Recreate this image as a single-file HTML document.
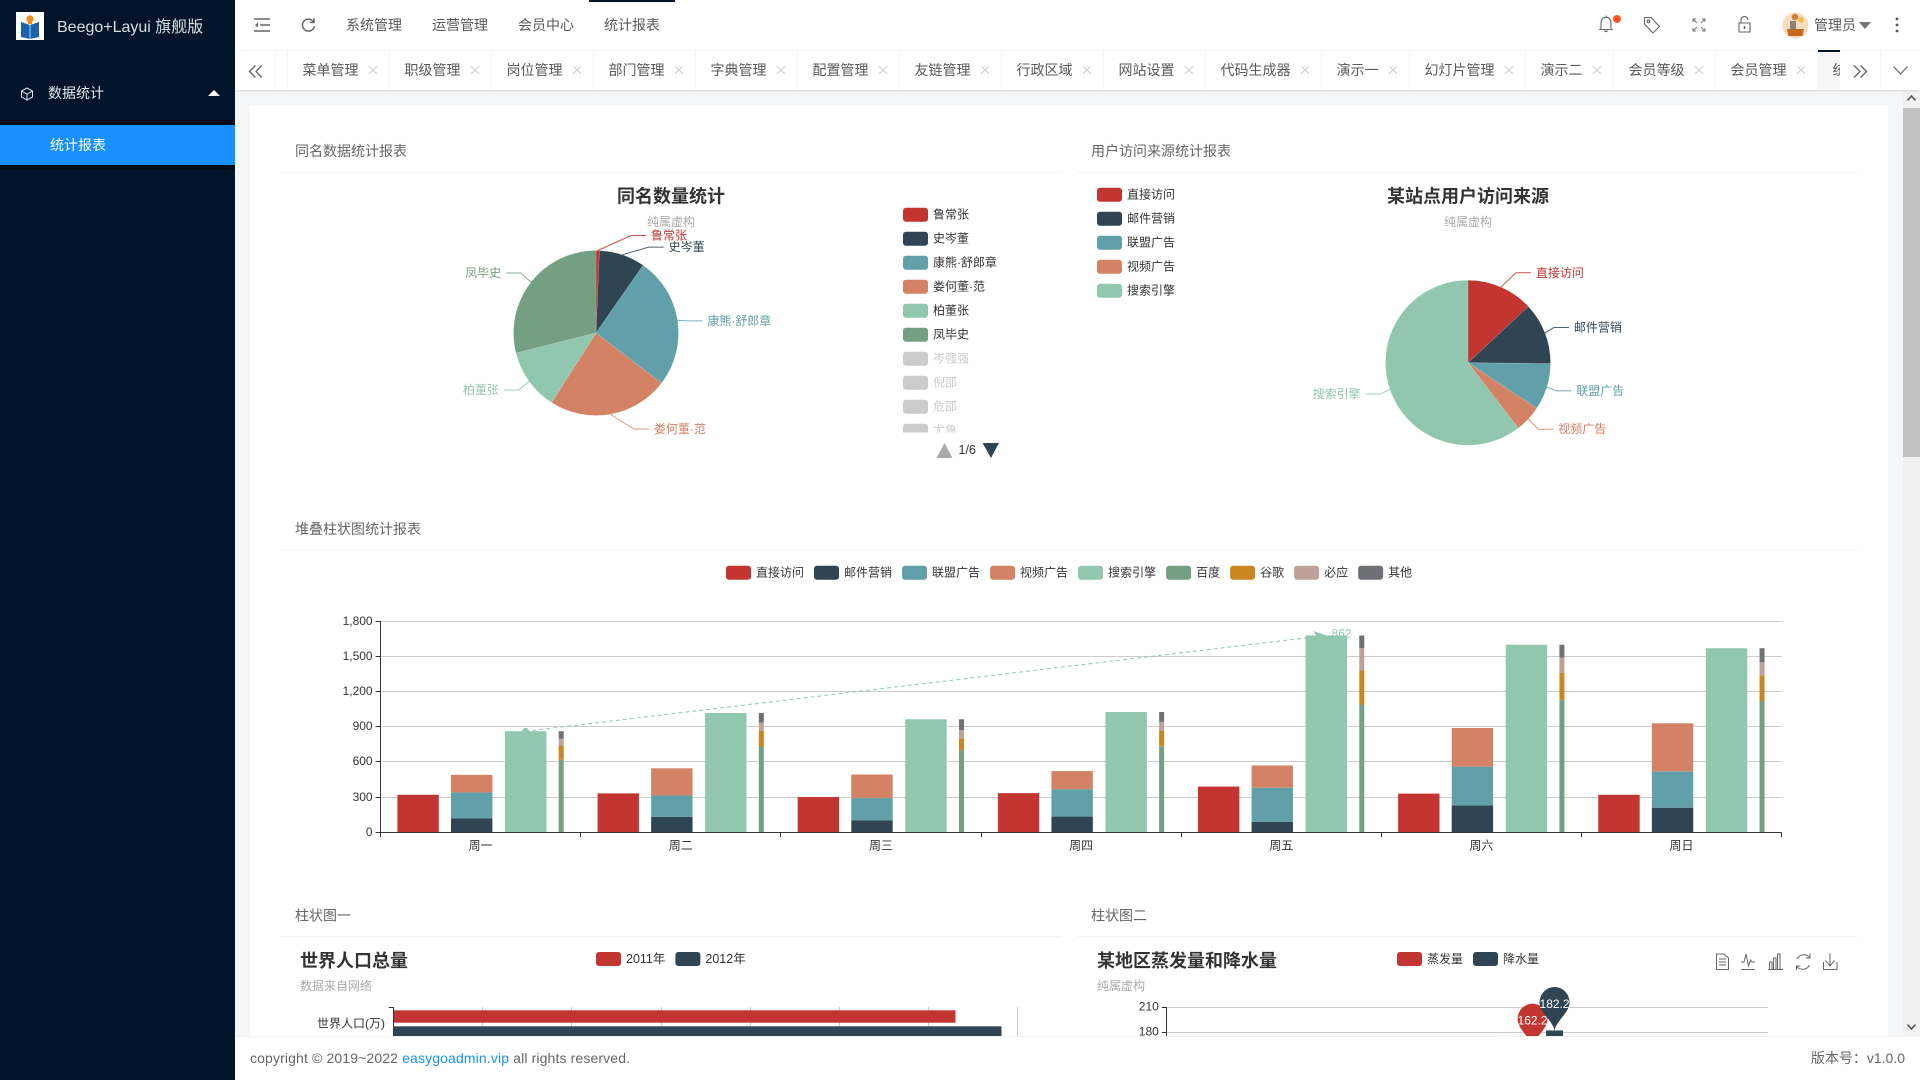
<!DOCTYPE html>
<html lang="zh-CN">
<head>
<meta charset="utf-8">
<title>统计报表</title>
<style>
*{box-sizing:border-box}
html,body{margin:0;padding:0;width:1920px;height:1080px;overflow:hidden;background:#f4f6f8;
font-family:"Liberation Sans","Noto Sans CJK SC",sans-serif;color:#666;font-size:14px}
.abs{position:absolute}
#sidebar{left:0;top:0;width:235px;height:1080px;background:#00152a;z-index:5}
#logo-box{left:16px;top:12px;width:28px;height:28px;background:#fff}
#brand{left:57px;top:15.5px;font-size:16px;line-height:24px;color:rgba(255,255,255,.85);white-space:nowrap}
#menu-group{left:48px;top:83px;line-height:20px;color:rgba(255,255,255,.9)}
#submenu{left:0;top:120px;width:235px;height:50px;background:#000c17}
#menu-active{left:0;top:125px;width:235px;height:40px;background:#1890ff;color:#fff;line-height:40px;padding-left:50px}
#topbar{left:235px;top:0;width:1685px;height:50px;background:#fff;z-index:4}
.nav{position:absolute;top:15px;line-height:20px;color:#595959;white-space:nowrap}
#nav-active-bar{position:absolute;left:354px;top:0;width:86px;height:2px;background:#001529}
#tabrow{left:235px;top:50px;width:1685px;height:40px;background:#fff;border-top:1px solid #f6f6f6;box-shadow:0 1px 2px rgba(0,0,0,.12);z-index:3}
#tabs{position:absolute;left:52px;top:-1px;width:1553px;height:40px;overflow:hidden;display:flex;border-left:1px solid #f6f6f6}
.tab{flex:none;height:40px;line-height:40px;padding-left:14.5px;padding-right:12px;border-right:1px solid #f6f6f6;color:#595959;white-space:nowrap;display:flex;align-items:center}
.tab svg{margin-left:10.5px;flex:none}
.tab.on{background:#f6f6f6;position:relative}
.tab.on:before{content:"";position:absolute;left:0;top:0;width:100%;height:2px;background:#001529}
.sep{position:absolute;top:0;width:1px;height:39px;background:#f6f6f6}
#content-card{left:250px;top:105px;width:1638px;height:940px;background:#fff}
#charts{left:0;top:0;width:1920px;height:1080px;z-index:1}
#scroll-track{left:1903px;top:90px;width:17px;height:946px;background:#f1f1f1;z-index:2}
#scroll-thumb{left:1903px;top:108px;width:17px;height:349px;background:#c1c1c1;z-index:2}
#footer{left:235px;top:1036px;width:1685px;height:44px;background:#fff;border-top:1px solid #f2f2f2;z-index:4;line-height:43px;color:#666}
#copy{position:absolute;left:15px;top:0;white-space:nowrap;letter-spacing:.13px}
#copy a{color:#1890ff;text-decoration:none}
#version{position:absolute;right:15px;top:0;white-space:nowrap}
svg text{font-family:"Liberation Sans","Noto Sans CJK SC",sans-serif}
</style>
</head>
<body>

<div id="sidebar" class="abs">
  <div id="logo-box" class="abs">
    <svg width="28" height="28" viewBox="0 0 28 28">
      <path d="M5 10 L14 13 L23 10 L23 25 L14 27 L5 25Z" fill="#1b64ac"/>
      <path d="M14 13V27" stroke="#8fc0ea" stroke-width="1.2"/>
      <path d="M14 3 L18 8 L16 8 L16 12 L12 12 L12 8 L10 8Z" fill="#f08a1d"/>
      <circle cx="14" cy="7" r="3.6" fill="#f08a1d"/>
    </svg>
  </div>
  <div id="brand" class="abs">Beego+Layui 旗舰版</div>
  <svg class="abs" style="left:20px;top:87px" width="14" height="14" viewBox="0 0 14 14" fill="none" stroke="#dfe3e8" stroke-width="1">
    <path d="M7 1 L12.5 4 V10 L7 13 L1.5 10 V4Z M1.5 4 L7 7.2 L12.5 4 M7 7.2V13"/>
  </svg>
  <div id="menu-group" class="abs">数据统计</div>
  <svg class="abs" style="left:208px;top:90px" width="12" height="6"><path d="M0 6 L6 0 L12 6Z" fill="#fff"/></svg>
  <div id="submenu" class="abs"></div>
  <div id="menu-active" class="abs">统计报表</div>
</div>

<div id="topbar" class="abs">
  <div id="nav-active-bar"></div>
  <svg class="abs" style="left:19px;top:18px" width="16" height="14" viewBox="0 0 16 14" stroke="#666" stroke-width="1.6" fill="none">
    <path d="M0 1H16M6 7H16M0 13H16"/><path d="M4 4.5 L1 7 L4 9.5Z" fill="#666" stroke="none"/>
  </svg>
  <svg class="abs" style="left:66px;top:17px" width="15" height="16" viewBox="0 0 15 16" fill="none" stroke="#666" stroke-width="1.5">
    <path d="M12.6 5 A6 6 0 1 0 13.4 9"/><path d="M13 1.2 V5.4 H8.9"/>
  </svg>
  <div class="nav" style="left:111px">系统管理</div>
  <div class="nav" style="left:197px">运营管理</div>
  <div class="nav" style="left:283px">会员中心</div>
  <div class="nav" style="left:369px">统计报表</div>

  <svg class="abs" style="left:1363px;top:14px" width="24" height="21" viewBox="0 0 24 21" fill="none" stroke="#666" stroke-width="1.1">
    <path d="M1 15.5 H15 M3 15 V9 A5 5.8 0 0 1 13 9 V15 M6.5 16.5 A1.6 1.6 0 0 0 9.5 16.5 M8 3V1.5"/>
    <circle cx="19" cy="5" r="4" fill="#ff5722" stroke="none"/>
  </svg>
  <svg class="abs" style="left:1408px;top:16px" width="18" height="18" viewBox="0 0 18 18" fill="none" stroke="#666" stroke-width="1.1">
    <path d="M1.5 1.5 H8 L16.5 10.5 L10 17 L1.5 8Z"/><circle cx="5.4" cy="5.3" r="1.4"/>
  </svg>
  <svg class="abs" style="left:1457px;top:18px" width="14" height="14" viewBox="0 0 14 14" fill="none" stroke="#777" stroke-width="1">
    <path d="M1 4V1H4M13 4V1H10M1 10V13H4M13 10V13H10M1 1L5 5M13 1L9 5M1 13L5 9M13 13L9 9"/>
  </svg>
  <svg class="abs" style="left:1503px;top:16px" width="13" height="17" viewBox="0 0 13 17" fill="none" stroke="#666" stroke-width="1.1">
    <path d="M1 7 H12 V16 H1Z M3 7 V4 A3.4 3.4 0 0 1 10 4"/><path d="M6.5 10V13" stroke-width="1.6"/>
  </svg>
  <svg class="abs" style="left:1547px;top:12px" width="27" height="27" viewBox="0 0 27 27">
    <circle cx="13.5" cy="13.5" r="13" fill="#f7dcc0"/>
    <circle cx="13" cy="5" r="3.2" fill="#c97f35"/>
    <circle cx="19" cy="8" r="3" fill="#efbe52"/>
    <rect x="8" y="9" width="6" height="8" fill="#8d7f78"/>
    <path d="M5 17 H22 L20.5 24 H6.5Z" fill="#c8681e"/>
  </svg>
  <div class="nav" style="left:1579px">管理员</div>
  <svg class="abs" style="left:1624px;top:22px" width="12" height="7"><path d="M0 0 H12 L6 7Z" fill="#777"/></svg>
  <svg class="abs" style="left:1660px;top:17px" width="4" height="16"><circle cx="2" cy="2" r="1.4" fill="#555"/><circle cx="2" cy="8" r="1.4" fill="#555"/><circle cx="2" cy="14" r="1.4" fill="#555"/></svg>
</div>

<div id="tabrow" class="abs">
  <svg class="abs" style="left:13px;top:14px" width="16" height="13" viewBox="0 0 16 13" fill="none" stroke="#666" stroke-width="1.4"><path d="M7.5 0.5 L1.5 6.5 L7.5 12.5 M14 0.5 L8 6.5 L14 12.5"/></svg>
  <div class="sep" style="left:40px"></div>
  <div id="tabs">
    <div class="tab">菜单管理<svg width="8" height="8"><path d="M0 0L8 8M8 0L0 8" stroke="#ccc"/></svg></div>
    <div class="tab">职级管理<svg width="8" height="8"><path d="M0 0L8 8M8 0L0 8" stroke="#ccc"/></svg></div>
    <div class="tab">岗位管理<svg width="8" height="8"><path d="M0 0L8 8M8 0L0 8" stroke="#ccc"/></svg></div>
    <div class="tab">部门管理<svg width="8" height="8"><path d="M0 0L8 8M8 0L0 8" stroke="#ccc"/></svg></div>
    <div class="tab">字典管理<svg width="8" height="8"><path d="M0 0L8 8M8 0L0 8" stroke="#ccc"/></svg></div>
    <div class="tab">配置管理<svg width="8" height="8"><path d="M0 0L8 8M8 0L0 8" stroke="#ccc"/></svg></div>
    <div class="tab">友链管理<svg width="8" height="8"><path d="M0 0L8 8M8 0L0 8" stroke="#ccc"/></svg></div>
    <div class="tab">行政区域<svg width="8" height="8"><path d="M0 0L8 8M8 0L0 8" stroke="#ccc"/></svg></div>
    <div class="tab">网站设置<svg width="8" height="8"><path d="M0 0L8 8M8 0L0 8" stroke="#ccc"/></svg></div>
    <div class="tab">代码生成器<svg width="8" height="8"><path d="M0 0L8 8M8 0L0 8" stroke="#ccc"/></svg></div>
    <div class="tab">演示一<svg width="8" height="8"><path d="M0 0L8 8M8 0L0 8" stroke="#ccc"/></svg></div>
    <div class="tab">幻灯片管理<svg width="8" height="8"><path d="M0 0L8 8M8 0L0 8" stroke="#ccc"/></svg></div>
    <div class="tab">演示二<svg width="8" height="8"><path d="M0 0L8 8M8 0L0 8" stroke="#ccc"/></svg></div>
    <div class="tab">会员等级<svg width="8" height="8"><path d="M0 0L8 8M8 0L0 8" stroke="#ccc"/></svg></div>
    <div class="tab">会员管理<svg width="8" height="8"><path d="M0 0L8 8M8 0L0 8" stroke="#ccc"/></svg></div>
    <div class="tab on">统计报表</div>
  </div>
  <svg class="abs" style="left:1617px;top:14px" width="16" height="13" viewBox="0 0 16 13" fill="none" stroke="#666" stroke-width="1.4"><path d="M2 0.5 L8 6.5 L2 12.5 M8.5 0.5 L14.5 6.5 L8.5 12.5"/></svg>
  <div class="sep" style="left:1645px"></div>
  <svg class="abs" style="left:1658px;top:15px" width="15" height="9" viewBox="0 0 15 9" fill="none" stroke="#666" stroke-width="1.2"><path d="M0.5 0.5 L7.5 8 L14.5 0.5"/></svg>
</div>

<div id="content-card" class="abs"></div>

<svg id="charts" class="abs" width="1920" height="1080" viewBox="0 0 1920 1080"></svg>

<div id="scroll-track" class="abs">
  <svg class="abs" style="left:4px;top:5px" width="9" height="6"><path d="M0.5 5.5L4.5 1L8.5 5.5" fill="none" stroke="#505050" stroke-width="1.5"/></svg>
  <svg class="abs" style="left:4px;top:934px" width="9" height="6"><path d="M0.5 0.5L4.5 5L8.5 0.5" fill="none" stroke="#505050" stroke-width="1.5"/></svg>
</div>
<div id="scroll-thumb" class="abs"></div>

<div id="footer" class="abs">
  <div id="copy">copyright © 2019~2022 <a>easygoadmin.vip</a> all rights reserved.</div>
  <div id="version">版本号：v1.0.0</div>
</div>

<script>
/* ---------- chart data ---------- */
const palette = ['#c23531','#2f4554','#61a0a8','#d48265','#91c7ae','#749f83','#ca8622','#bda29a','#6e7074'];

const sameNameLegend = ['鲁常张','史岑董','康熊·舒郎章','娄何董·范','柏董张','凤毕史','岑强强','倪邵','危邵','尤鲁'];
const sameNameValues = [24,324,926,852,433,1041];

const visitNames = ['直接访问','邮件营销','联盟广告','视频广告','搜索引擎'];
const visitValues = [335,310,234,135,1548];

const weekDays = ['周一','周二','周三','周四','周五','周六','周日'];
const stackTicks = [0,300,600,900,1200,1500,1800];
const stackLegend = ['直接访问','邮件营销','联盟广告','视频广告','搜索引擎','百度','谷歌','必应','其他'];
const directValues = [320,332,301,334,390,330,320];
const emailValues = [120,132,101,134,90,230,210];
const allianceValues = [220,182,191,234,290,330,310];
const videoValues = [150,232,201,154,190,330,410];
const searchValues = [862,1018,964,1026,1679,1600,1570];
const baiduValues = [620,732,701,734,1090,1130,1120];
const googleValues = [120,132,101,134,290,230,220];
const bingValues = [60,72,71,74,190,130,110];
const otherValues = [62,82,91,84,109,110,120];

const populationCategories = ['世界人口(万)','中国','印度','美国','印尼','巴西'];
const population2011 = [630230,131744,104970,29034,23489,18203];
const population2012 = [681807,134141,121594,31000,23438,19325];
const populationTicks = [0,100000,200000,300000,400000,500000,600000,700000];

const monthNames = ['1月','2月','3月','4月','5月','6月','7月','8月','9月','10月','11月','12月'];
const evaporationValues = [2.0,4.9,7.0,23.2,25.6,76.7,135.6,162.2,32.6,20.0,6.4,3.3];
const rainfallValues = [2.6,5.9,9.0,26.4,28.7,70.7,175.6,182.2,48.7,18.8,6.0,2.3];
const rainTicks = [0,30,60,90,120,150,180,210];

/* ---------- helpers ---------- */
const NS = 'http://www.w3.org/2000/svg';
const root = document.getElementById('charts');
const visibleBottom = 1036;
function mk(tag, attrs, parent, txt) {
  const n = document.createElementNS(NS, tag);
  for (const k in attrs) n.setAttribute(k, attrs[k]);
  if (txt !== undefined) n.textContent = txt;
  parent.appendChild(n);
  return n;
}
function label(parent, x, y, txt, size, fill, anchor, weight) {
  return mk('text', {x: x, y: y, 'font-size': size, fill: fill, 'text-anchor': anchor || 'start',
    'dominant-baseline': 'central', 'font-weight': weight || 'normal'}, parent, txt);
}
function group(parent) { return mk('g', {}, parent); }

function swatch(parent, x, y, color) {
  return mk('rect', {x: x, y: y - 7, width: 25, height: 14, rx: 3, fill: color}, parent);
}

/* card headers */
function cardHeader(txt, textX, textY, x1, x2, lineY) {
  const g = group(root);
  
  
  const t = label(g, textX, textY, txt, 14, '#666');
  
  
  const l = mk('line', {x1: x1, x2: x2, y1: lineY, y2: lineY, stroke: '#f6f6f6', 'stroke-width': 1}, g);
  
  
}
cardHeader('同名数据统计报表', 295, 151, 280, 1062, 172.5);
cardHeader('用户访问来源统计报表', 1091, 151, 1077, 1858, 172.5);
cardHeader('堆叠柱状图统计报表', 295, 529, 280, 1858, 550.5);
cardHeader('柱状图一', 295, 915.5, 280, 1061, 936.5);
cardHeader('柱状图二', 1091, 915.5, 1077, 1858, 936.5);

/* legend drawing */
function legendColumn(parent, names, x, firstY, activeCount) {
  names.forEach(function (name, i) {
    const on = i < activeCount;
    const item = group(parent);
    
    
    swatch(item, x, firstY + i * 24, on ? palette[i % palette.length] : '#ccc');
    label(item, x + 30, firstY + i * 24, name, 12, on ? '#333' : '#ccc');
  });
}
function legendRow(parent, names, startX, y, colors, size) {
  let x = startX;
  names.forEach(function (name, i) {
    const item = group(parent);
    
    
    swatch(item, x, y, colors[i % colors.length]);
    const t = label(item, x + 30, y, name, size || 12, '#333');
    x += 25 + 5 + t.getComputedTextLength() + 10;
  });
}

/* pie drawing */
function polar(cx, cy, r, deg) {
  const a = deg * Math.PI / 180;
  return [cx + r * Math.sin(a), cy - r * Math.cos(a)];
}
function drawPie(parent, names, values, cx, cy, r, nudges) {
  const total = values.reduce(function (a, b) { return a + b; }, 0);
  let start = 0;
  values.forEach(function (v, i) {
    const sweep = v / total * 360;
    const end = start + sweep;
    const mid = start + sweep / 2;
    const color = palette[i % palette.length];
    const p0 = polar(cx, cy, r, start);
    const p1 = polar(cx, cy, r, end);
    const slice = mk('path', {
      d: 'M' + cx + ' ' + cy + 'L' + p0[0] + ' ' + p0[1] + 'A' + r + ' ' + r + ' 0 ' + (sweep > 180 ? 1 : 0) + ' 1 ' + p1[0] + ' ' + p1[1] + 'Z',
      fill: color, stroke: 'rgba(255,255,255,.25)', 'stroke-width': 0.5
    }, parent);
    
    

    const nudge = nudges[names[i]] || [0, 0];
    const out = polar(cx, cy, r, mid);
    const elbow = polar(cx, cy, r + 15, mid);
    elbow[0] += nudge[0];
    elbow[1] += nudge[1];
    const dir = (mid < 180) ? 1 : -1;
    const endX = elbow[0] + dir * 15;
    const lead = mk('polyline', {
      points: out.join(',') + ' ' + elbow.join(',') + ' ' + endX + ',' + elbow[1],
      fill: 'none', stroke: color, 'stroke-width': 1, 'stroke-opacity': 0.85
    }, parent);
    
    
    const t = label(parent, endX + dir * 5, elbow[1], names[i], 12, color, dir > 0 ? 'start' : 'end');
    
    
    start = end;
  });
}

/* ---------- chart 1: same name pie ---------- */
const pieOne = group(root);


const pieOneTitle = label(pieOne, 671, 196.5, '同名数量统计', 18, '#333', 'middle', 'bold');


const pieOneSub = label(pieOne, 671, 222, '纯属虚构', 12, '#aaa', 'middle');


drawPie(pieOne, sameNameLegend.slice(0, sameNameValues.length), sameNameValues, 596, 333, 82.5, {
  '鲁常张': [33, 0], '史岑董': [21.5, 6.5], '康熊·舒郎章': [-5, 3], '娄何董·范': [21, 0], '柏董张': [2, 0], '凤毕史': [2, 0]
});
const defs = mk('defs', {}, root);
const clip = mk('clipPath', {id: 'legend-clip'}, defs);
mk('rect', {x: 895, y: 200, width: 170, height: 232.5}, clip);
const pieOneLegend = mk('g', {'clip-path': 'url(#legend-clip)'}, pieOne);


legendColumn(pieOneLegend, sameNameLegend, 903, 214.7, sameNameValues.length);
const pagerUp = mk('path', {d: 'M944.5 443 L952.5 458 L936.5 458Z', fill: '#aaa'}, pieOne);


const pagerText = label(pieOne, 958.5, 450, '1/6', 12.5, '#333');


const pagerDown = mk('path', {d: 'M982.5 443 L999 443 L991 458Z', fill: '#2f4554'}, pieOne);



/* ---------- chart 2: visit source pie ---------- */
const pieTwo = group(root);


const pieTwoTitle = label(pieTwo, 1468, 196.5, '某站点用户访问来源', 18, '#333', 'middle', 'bold');


const pieTwoSub = label(pieTwo, 1468, 222, '纯属虚构', 12, '#aaa', 'middle');


drawPie(pieTwo, visitNames, visitValues, 1468, 362.7, 82.5, {
  '直接访问': [9, -0.5], '邮件营销': [-5, 0], '联盟广告': [-5, -0.5], '视频广告': [-1, 0], '搜索引擎': [5, 0]
});
const pieTwoLegend = group(pieTwo);


legendColumn(pieTwoLegend, visitNames, 1097, 194.7, visitNames.length);

/* ---------- chart 3: stacked bars ---------- */
const stackAxis = {left: 380.6, right: 1781.6, bottom: 832.3, top: 621.3};
function stackX(i) { return stackAxis.left + i * (stackAxis.right - stackAxis.left) / weekDays.length; }
function stackY(v) {
  const max = stackTicks[stackTicks.length - 1];
  return stackAxis.bottom - v / max * (stackAxis.bottom - stackAxis.top);
}
const stackChart = group(root);


const stackLegendGroup = group(stackChart);


legendRow(stackLegendGroup, stackLegend, 726, 572.7, palette);

stackTicks.forEach(function (tick) {
  const y = Math.floor(stackY(tick)) + 0.5;
  if (tick > 0) {
    const grid = mk('line', {x1: stackAxis.left, x2: stackAxis.right, y1: y, y2: y, stroke: '#ccc', 'stroke-width': 1}, stackChart);
    
    
  }
  const mark = mk('line', {x1: stackAxis.left - 5, x2: stackAxis.left, y1: y, y2: y, stroke: '#333'}, stackChart);
  
  
  const t = label(stackChart, stackAxis.left - 8, y - 0.5, tick.toLocaleString('en-US'), 12, '#333', 'end');
  
  
});

function stackedBar(dayIndex, offset, width, seriesList, colorStart) {
  let base = 0;
  seriesList.forEach(function (series, s) {
    const yTop = stackY(base + series[dayIndex]);
    const yBottom = stackY(base);
    const bar = mk('rect', {x: stackX(dayIndex) + offset, y: yTop, width: width, height: yBottom - yTop,
      fill: palette[colorStart + s]}, stackChart);
    
    
    base += series[dayIndex];
  });
}
weekDays.forEach(function (day, i) {
  stackedBar(i, 16.8, 41.4, [directValues], 0);
  stackedBar(i, 70.4, 41.4, [emailValues, allianceValues, videoValues], 1);
  stackedBar(i, 124.4, 41.4, [searchValues], 4);
  stackedBar(i, 178.1, 5, [baiduValues, googleValues, bingValues, otherValues], 5);
  const t = label(stackChart, stackX(i) + (stackAxis.right - stackAxis.left) / weekDays.length / 2, 845.7, day, 12, '#333', 'middle');
  
  
});
weekDays.concat(['']).forEach(function (d, i) {
  const x = Math.floor(stackX(i)) + 0.5;
  const tick = mk('line', {x1: x, x2: x, y1: stackAxis.bottom, y2: stackAxis.bottom + 5, stroke: '#333'}, stackChart);
  
  
});
const stackXAxis = mk('line', {x1: stackAxis.left, x2: stackAxis.right, y1: Math.floor(stackAxis.bottom) + 0.5, y2: Math.floor(stackAxis.bottom) + 0.5, stroke: '#333'}, stackChart);


const stackYAxis = mk('line', {x1: Math.floor(stackAxis.left) + 0.5, x2: Math.floor(stackAxis.left) + 0.5, y1: stackAxis.top, y2: stackAxis.bottom, stroke: '#333'}, stackChart);



/* mark line, min to max of the search series */
const searchMin = Math.min.apply(null, searchValues);
const searchMax = Math.max.apply(null, searchValues);
const markCenter = 144.9;
const markX1 = stackX(searchValues.indexOf(searchMin)) + markCenter;
const markX2 = stackX(searchValues.indexOf(searchMax)) + markCenter;
const markY1 = stackY(searchMin);
const markY2 = stackY(searchMax);
const markLine = mk('line', {x1: markX1, y1: markY1, x2: markX2, y2: markY2, stroke: '#91c7ae', 'stroke-width': 1, 'stroke-dasharray': '4 3'}, stackChart);


const markStart = mk('circle', {cx: markX1, cy: markY1, r: 3.5, fill: '#91c7ae'}, stackChart);


const markArrow = mk('path', {d: 'M' + markX2 + ' ' + markY2 + 'l-13 -4.5 l3 4 l-1 4 Z', fill: '#91c7ae'}, stackChart);


const markLabel = label(stackChart, markX2 + 5.5, markY2 - 2, String(searchMin), 12, '#91c7ae');



/* ---------- chart 4: world population ---------- */
const popAxis = {left: 393.7, right: 1017.7, top: 1007, band: 34.6};
function popX(v) {
  const max = populationTicks[populationTicks.length - 1];
  return popAxis.left + v / max * (popAxis.right - popAxis.left);
}
function popY(i) { return popAxis.top + i * popAxis.band; }
const popChart = group(root);


const popTitle = label(popChart, 300, 961, '世界人口总量', 18, '#333', 'start', 'bold');


const popSub = label(popChart, 300, 986, '数据来自网络', 12, '#aaa');


const popLegend = group(popChart);


legendRow(popLegend, ['2011年', '2012年'], 596, 959, palette, 12.5);
populationTicks.forEach(function (tick) {
  if (tick === 0) return;
  const x = Math.floor(popX(tick)) + 0.5;
  const grid = mk('line', {x1: x, x2: x, y1: popAxis.top, y2: visibleBottom, stroke: '#ccc'}, popChart);
  
  
});
populationCategories.forEach(function (name, i) {
  /* only the rows above the fixed footer are on screen */
  if (popY(i) + 3.3 >= visibleBottom) return;
  const y2011 = popY(i) + 3.3;
  const bar2011 = mk('rect', {x: popAxis.left, y: y2011, width: popX(population2011[i]) - popAxis.left, height: Math.min(12.4, visibleBottom - y2011), fill: palette[0]}, popChart);
  
  
  const y2012 = popY(i) + 19.3;
  const bar2012 = mk('rect', {x: popAxis.left, y: y2012, width: popX(population2012[i]) - popAxis.left, height: Math.min(12.4, visibleBottom - y2012), fill: palette[1]}, popChart);
  
  
  const t = label(popChart, 385, popY(i) + popAxis.band / 2 - 1, name, 12, '#333', 'end');
  
  
  const tick = mk('line', {x1: popAxis.left - 5, x2: popAxis.left, y1: Math.floor(popY(i)) + 0.5, y2: Math.floor(popY(i)) + 0.5, stroke: '#333'}, popChart);
  
  
});
const popAxisLine = mk('line', {x1: Math.floor(popAxis.left) + 0.5, x2: Math.floor(popAxis.left) + 0.5, y1: popAxis.top, y2: visibleBottom, stroke: '#333'}, popChart);



/* ---------- chart 5: evaporation and rainfall ---------- */
const rainAxis = {left: 1166.8, right: 1768, y180: 1032.3, perUnit: 25 / 30};
function rainX(i) { return rainAxis.left + (i + 0.5) * (rainAxis.right - rainAxis.left) / monthNames.length; }
function rainY(v) { return rainAxis.y180 - (v - 180) * rainAxis.perUnit; }
const rainChart = group(root);


const rainTitle = label(rainChart, 1097, 961, '某地区蒸发量和降水量', 18, '#333', 'start', 'bold');


const rainSub = label(rainChart, 1097, 986, '纯属虚构', 12, '#aaa');


const rainLegend = group(rainChart);


legendRow(rainLegend, ['蒸发量', '降水量'], 1397, 959, palette);

rainTicks.forEach(function (tick) {
  const y = Math.floor(rainY(tick)) + 0.5;
  if (y >= visibleBottom) return;
  const grid = mk('line', {x1: rainAxis.left, x2: rainAxis.right, y1: y, y2: y, stroke: '#ccc'}, rainChart);
  
  
  const mark = mk('line', {x1: rainAxis.left - 5, x2: rainAxis.left, y1: y, y2: y, stroke: '#333'}, rainChart);
  
  
  const t = label(rainChart, rainAxis.left - 8, y - 1, String(tick), 12, '#333', 'end');
  
  
});
const rainAxisLine = mk('line', {x1: Math.floor(rainAxis.left) + 0.5, x2: Math.floor(rainAxis.left) + 0.5, y1: rainY(210), y2: visibleBottom, stroke: '#333'}, rainChart);



monthNames.forEach(function (m, i) {
  const evapTop = rainY(evaporationValues[i]);
  if (evapTop < visibleBottom) {
    const evapBar = mk('rect', {x: rainX(i) - 18.5, y: evapTop, width: 17, height: visibleBottom - evapTop, fill: palette[0]}, rainChart);
    
    
  }
  const rainTop = rainY(rainfallValues[i]);
  if (rainTop < visibleBottom) {
    const rainBar = mk('rect', {x: rainX(i) + 3.5, y: rainTop, width: 17, height: visibleBottom - rainTop, fill: palette[1]}, rainChart);
    
    
  }
});
function drawPin(x, tipY, value, color) {
  const headY = tipY - 28;
  const pin = mk('path', {
    d: 'M' + x + ' ' + tipY + 'C' + (x - 2) + ' ' + (tipY - 10) + ' ' + (x - 15) + ' ' + (headY + 10) + ' ' + (x - 15) + ' ' + headY +
       'A15 15.5 0 0 1 ' + (x + 15) + ' ' + headY +
       'C' + (x + 15) + ' ' + (headY + 10) + ' ' + (x + 2) + ' ' + (tipY - 10) + ' ' + x + ' ' + tipY + 'Z',
    fill: color
  }, rainChart);
  
  
  const t = label(rainChart, x, headY + 1.5, String(value), 12, '#fff', 'middle');
  
  
}
const evapMax = Math.max.apply(null, evaporationValues);
const rainMax = Math.max.apply(null, rainfallValues);
drawPin(rainX(evaporationValues.indexOf(evapMax)) - 10, rainY(evapMax), evapMax, palette[0]);
drawPin(rainX(rainfallValues.indexOf(rainMax)) + 12, rainY(rainMax), rainMax, palette[1]);

/* toolbox icons */
const toolbox = mk('g', {fill: 'none', stroke: '#666', 'stroke-width': 1}, rainChart);


const toolData = mk('path', {d: 'M1716.5 954 H1724 L1728.5 958 V969.5 H1716.5Z M1719 959H1726 M1719 962H1726 M1719 965H1726'}, toolbox);


const toolLine = mk('path', {d: 'M1741 969.5 H1755 M1741 962 H1744 L1746 954 L1748.5 966 L1750.5 960 L1752 962 H1755'}, toolbox);


const toolBar = mk('path', {d: 'M1768 969.5 H1783 M1769.5 969 V962 H1772 V969 M1773.5 969 V958 H1776 V969 M1777.5 969 V954 H1780 V969'}, toolbox);


const toolRestore = mk('path', {d: 'M1797 959 A7.5 7.5 0 0 1 1810 958 M1809.5 965 A7.5 7.5 0 0 1 1796.5 966 M1810 953.5 V958 H1806 M1796.5 970 V966 H1800.5'}, toolbox);


const toolSave = mk('path', {d: 'M1823.5 962 V969.5 H1837 V962 M1830 953.5 V966 M1825.5 960.5 L1830 966 L1834.5 960.5'}, toolbox);


</script>
</body>
</html>
